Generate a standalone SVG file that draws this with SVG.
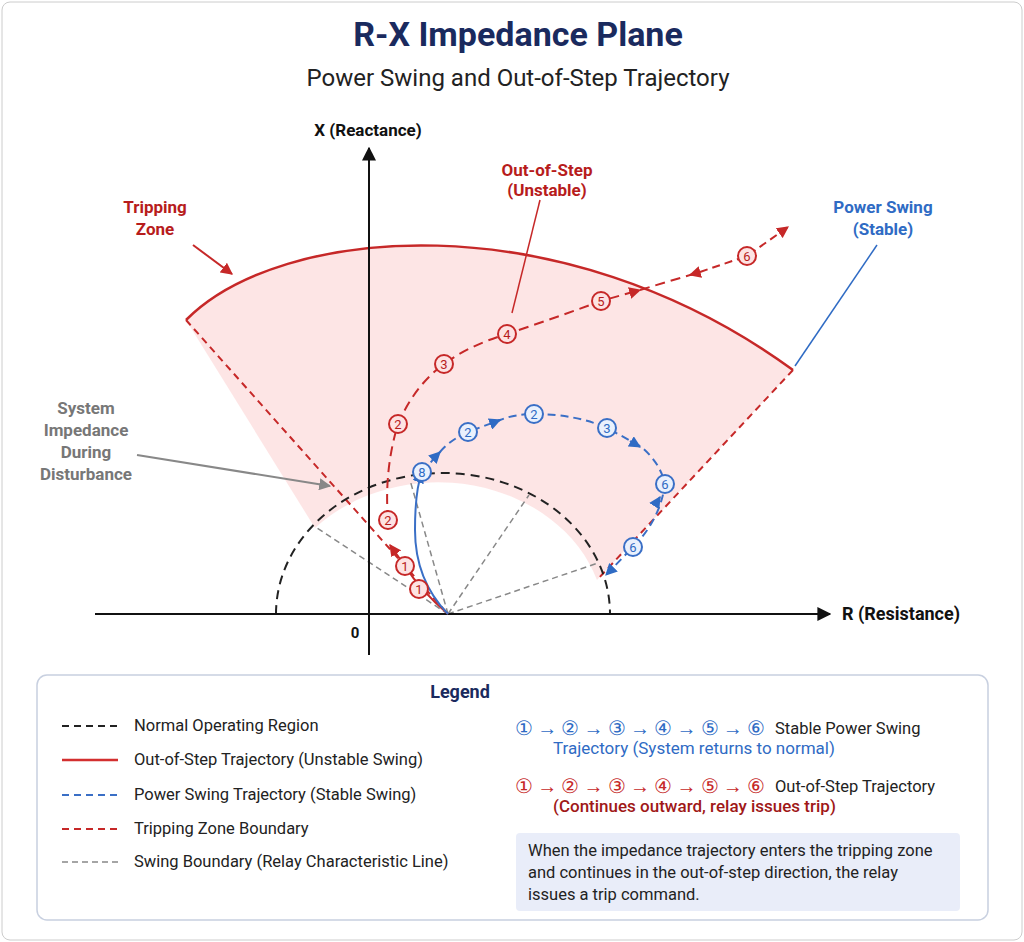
<svg xmlns="http://www.w3.org/2000/svg" width="1024" height="942" viewBox="0 0 1024 942">
<defs>
<style>
text{font-family:Roboto,"Liberation Sans",sans-serif}
.red{fill:#b71c1c}.blue{fill:#2f6bc4}.gray{fill:#777}
.lbl{font-size:17px;font-weight:bold;text-anchor:middle}
.leg{font-size:16.5px;fill:#222}
.cr{fill:#fde3e3;stroke:#c62828;stroke-width:2}
.cb{fill:#eaf1fd;stroke:#3a6fc6;stroke-width:2}
.nr{font-size:13px;fill:#b71c1c;text-anchor:middle}
.nb{font-size:13px;fill:#2f6bc4;text-anchor:middle}
</style>
<marker id="ak" viewBox="0 0 10 10" refX="9" refY="5" markerWidth="7" markerHeight="7" orient="auto"><path d="M0,0L10,5L0,10z" fill="#111"/></marker>
<marker id="ar" viewBox="0 0 10 10" refX="9" refY="5" markerWidth="6" markerHeight="6" orient="auto"><path d="M0,0L10,5L0,10z" fill="#c62828"/></marker>
<marker id="ab" viewBox="0 0 10 10" refX="9" refY="5" markerWidth="6" markerHeight="6" orient="auto"><path d="M0,0L10,5L0,10z" fill="#2f6bc4"/></marker>
<marker id="ag" viewBox="0 0 10 10" refX="9" refY="5" markerWidth="6" markerHeight="6" orient="auto"><path d="M0,0L10,5L0,10z" fill="#888"/></marker>
</defs>
<rect x="2" y="2" width="1020" height="938" rx="8" fill="#fff" stroke="#ccc"/>
<text x="518" y="46" font-size="34" font-weight="bold" fill="#1a2a5e" text-anchor="middle">R-X Impedance Plane</text>
<text x="518" y="86" font-size="24" fill="#222" text-anchor="middle">Power Swing and Out-of-Step Trajectory</text>

<g id="tripping-zone">
<path d="M186,320 C280,225 560,200 793,370 L597,580 A167,141 0 0 0 315,528 Z" fill="#fde0e0" opacity="0.85"/>
<path d="M186,320 C280,225 560,200 793,370" fill="none" stroke="#c62828" stroke-width="2.5"/>
<path d="M186,320 L446,612 M793,370 L597,580" fill="none" stroke="#c62828" stroke-width="2" stroke-dasharray="7,5"/>
</g>
<g id="normal-region">
<path d="M276,614 A167,141 0 0 1 610,614" fill="none" stroke="#222" stroke-width="2" stroke-dasharray="9,6"/>
</g>
<g id="swing-lines" stroke="#888" stroke-width="1.5" stroke-dasharray="6,4">
<line x1="448" y1="614" x2="317" y2="528"/>
<line x1="448" y1="614" x2="410" y2="480"/>
<line x1="448" y1="614" x2="529" y2="495"/>
<line x1="448" y1="614" x2="598" y2="563"/>
</g>
<g id="axes">
<line x1="95" y1="614" x2="830" y2="614" stroke="#111" stroke-width="2" marker-end="url(#ak)"/>
<line x1="369" y1="655" x2="369" y2="148" stroke="#111" stroke-width="2" marker-end="url(#ak)"/>
<text x="368" y="136" font-size="17" font-weight="bold" text-anchor="middle" fill="#111">X (Reactance)</text>
<text x="842" y="620" font-size="18" font-weight="bold" fill="#111">R (Resistance)</text>
<text x="355" y="638" font-size="15" font-weight="bold" text-anchor="middle" fill="#111">0</text>
</g>
<g id="connectors" fill="none">
<path d="M448,614 Q420,590 405,566 L390,545" stroke="#c62828" stroke-width="2" marker-end="url(#ar)"/>
<path d="M388,520 Q384,470 398,424 Q415,385 444,364 Q470,345 507,334 Q555,318 601,301 L640,290" stroke="#c62828" stroke-width="2" stroke-dasharray="10,6" marker-end="url(#ar)"/>
<path d="M640,290 L700,272" stroke="#c62828" stroke-width="2" stroke-dasharray="10,6"/>
<path d="M700,272 L690,275" stroke="#c62828" stroke-width="2" marker-end="url(#ar)"/>
<path d="M700,272 L747,256 L788,227" stroke="#c62828" stroke-width="2" stroke-dasharray="8,5" marker-end="url(#ar)"/>
<path d="M448,614 Q415,580 415,530 Q415,490 422,472" stroke="#3a6fc6" stroke-width="2" marker-end="url(#ab)"/>
<path d="M422,472 L440,452 M440,452 Q450,440 468,432 L500,420 Q515,414 534,414 Q575,414 607,428 L640,446 Q660,462 665,484 Q660,520 633,547 L606,575" stroke="#3a6fc6" stroke-width="2" stroke-dasharray="8,5" marker-end="url(#ab)"/>
<path d="M432,460 L440,452" stroke="#3a6fc6" stroke-width="2" marker-end="url(#ab)"/>
<path d="M490,424 L500,420" stroke="#3a6fc6" stroke-width="2" marker-end="url(#ab)"/>
<path d="M630,441 L640,447" stroke="#3a6fc6" stroke-width="2" marker-end="url(#ab)"/>
<path d="M655,505 L660,497" stroke="#3a6fc6" stroke-width="2" marker-end="url(#ab)"/>
<line x1="193" y1="245" x2="232" y2="274" stroke="#c62828" stroke-width="2" marker-end="url(#ar)"/>
<line x1="540" y1="200" x2="512" y2="313" stroke="#c62828" stroke-width="1.5"/>
<line x1="877" y1="245" x2="795" y2="366" stroke="#2f6bc4" stroke-width="1.5"/>
<line x1="137" y1="455" x2="330" y2="486" stroke="#888" stroke-width="2" marker-end="url(#ag)"/>
</g>
<g id="red-points">
<circle class="cr" cx="419" cy="589" r="9"/><text class="nr" x="419" y="594">1</text>
<circle class="cr" cx="405" cy="566" r="9"/><text class="nr" x="405" y="571">1</text>
<circle class="cr" cx="388" cy="520" r="9"/><text class="nr" x="388" y="525">2</text>
<circle class="cr" cx="398" cy="424" r="9"/><text class="nr" x="398" y="429">2</text>
<circle class="cr" cx="444" cy="364" r="9"/><text class="nr" x="444" y="369">3</text>
<circle class="cr" cx="507" cy="334" r="9"/><text class="nr" x="507" y="339">4</text>
<circle class="cr" cx="601" cy="301" r="9"/><text class="nr" x="601" y="306">5</text>
<circle class="cr" cx="747" cy="256" r="9" stroke-width="1.5"/><text class="nr" x="747" y="261">6</text>
</g>
<g id="blue-points">
<circle class="cb" cx="422" cy="472" r="9"/><text class="nb" x="422" y="477">8</text>
<circle class="cb" cx="468" cy="432" r="9"/><text class="nb" x="468" y="437">2</text>
<circle class="cb" cx="534" cy="414" r="9"/><text class="nb" x="534" y="419">2</text>
<circle class="cb" cx="607" cy="428" r="9"/><text class="nb" x="607" y="433">3</text>
<circle class="cb" cx="665" cy="484" r="9"/><text class="nb" x="665" y="489">6</text>
<circle class="cb" cx="633" cy="547" r="9"/><text class="nb" x="633" y="552">6</text>
</g>
<g id="labels">
<text class="lbl red" x="155" y="213">Tripping</text><text class="lbl red" x="155" y="235">Zone</text>
<text class="lbl red" x="547" y="176">Out-of-Step</text><text class="lbl red" x="547" y="196">(Unstable)</text>
<text class="lbl blue" x="883" y="213">Power Swing</text><text class="lbl blue" x="883" y="235">(Stable)</text>
<text class="lbl gray" x="86" y="414">System</text><text class="lbl gray" x="86" y="436">Impedance</text><text class="lbl gray" x="86" y="458">During</text><text class="lbl gray" x="86" y="480">Disturbance</text>
</g>
<g id="legend">
<rect x="37" y="675" width="951" height="245" rx="10" fill="#fff" stroke="#c8d0e0" stroke-width="1.5"/>
<text x="460" y="698" font-size="18" font-weight="bold" fill="#1a2a5e" text-anchor="middle">Legend</text>
<line x1="62" y1="726" x2="118" y2="726" stroke="#222" stroke-width="2" stroke-dasharray="7,5"/><text class="leg" x="134" y="731">Normal Operating Region</text>
<line x1="62" y1="760" x2="118" y2="760" stroke="#d32f2f" stroke-width="2.5"/><text class="leg" x="134" y="765">Out-of-Step Trajectory (Unstable Swing)</text>
<line x1="62" y1="795" x2="118" y2="795" stroke="#3a6fc6" stroke-width="2" stroke-dasharray="7,5"/><text class="leg" x="134" y="800">Power Swing Trajectory (Stable Swing)</text>
<line x1="62" y1="829" x2="118" y2="829" stroke="#c62828" stroke-width="2" stroke-dasharray="7,5"/><text class="leg" x="134" y="834">Tripping Zone Boundary</text>
<line x1="62" y1="862" x2="118" y2="862" stroke="#888" stroke-width="1.5" stroke-dasharray="6,4"/><text class="leg" x="134" y="867">Swing Boundary (Relay Characteristic Line)</text>
<text x="515" y="735" font-size="20" fill="#2f6bc4" textLength="250" lengthAdjust="spacing">① → ② → ③ → ④ → ⑤ → ⑥</text>
<text class="leg" x="775" y="734" font-size="17.5">Stable Power Swing</text>
<text x="553" y="754" font-size="17" fill="#2f6bc4">Trajectory (System returns to normal)</text>
<text x="515" y="793" font-size="20" fill="#c62828" textLength="250" lengthAdjust="spacing">① → ② → ③ → ④ → ⑤ → ⑥</text>
<text class="leg" x="775" y="792" font-size="17.5">Out-of-Step Trajectory</text>
<text x="553" y="812" font-size="17" fill="#a01818" font-weight="500">(Continues outward, relay issues trip)</text>
<rect x="516" y="833" width="444" height="78" rx="4" fill="#e9edf9"/>
<text class="leg" x="528" y="856">When the impedance trajectory enters the tripping zone</text>
<text class="leg" x="528" y="878">and continues in the out-of-step direction, the relay</text>
<text class="leg" x="528" y="900">issues a trip command.</text>
</g>
</svg>
